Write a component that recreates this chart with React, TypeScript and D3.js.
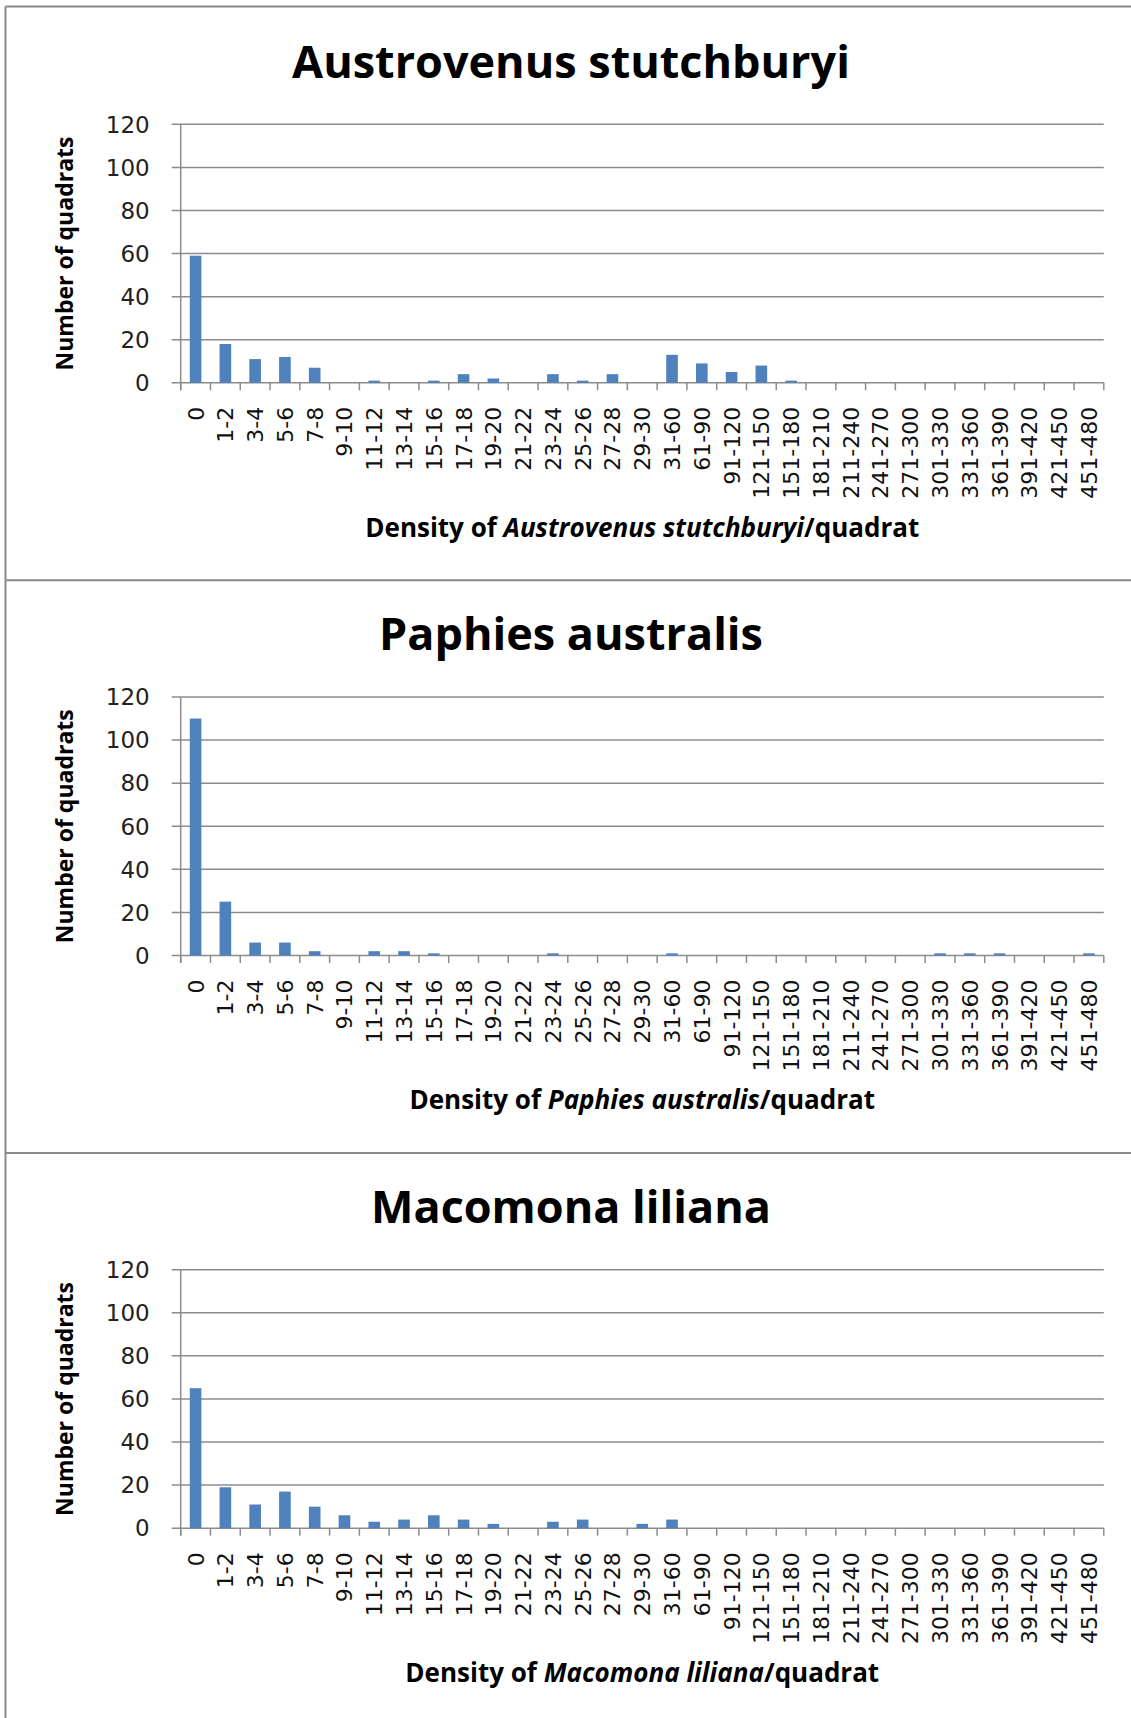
import React from "react";
import * as d3 from "d3";

const categories = [
  "0", "1-2", "3-4", "5-6", "7-8", "9-10", "11-12", "13-14", "15-16", "17-18",
  "19-20", "21-22", "23-24", "25-26", "27-28", "29-30", "31-60", "61-90", "91-120",
  "121-150", "151-180", "181-210", "211-240", "241-270", "271-300", "301-330",
  "331-360", "361-390", "391-420", "421-450", "451-480",
];

const austrovenusValues = [59, 18, 11, 12, 7, 0, 1, 0, 1, 4, 2, 0, 4, 1, 4, 0, 13, 9, 5, 8, 1, 0, 0, 0, 0, 0, 0, 0, 0, 0, 0];
const paphiesValues = [110, 25, 6, 6, 2, 0, 2, 2, 1, 0, 0, 0, 1, 0, 0, 0, 1, 0, 0, 0, 0, 0, 0, 0, 0, 1, 1, 1, 0, 0, 1];
const macomonaValues = [65, 19, 11, 17, 10, 6, 3, 4, 6, 4, 2, 0, 3, 4, 0, 2, 4, 0, 0, 0, 0, 0, 0, 0, 0, 0, 0, 0, 0, 0, 0];

const species = ["Austrovenus stutchburyi", "Paphies australis", "Macomona liliana"];
const seriesList = [austrovenusValues, paphiesValues, macomonaValues];

const yTicks = [0, 20, 40, 60, 80, 100, 120];
const yLabel = "Number of quadrats";
const xLabelPrefix = "Density of ";
const xLabelSuffix = "/quadrat";

// layout
const W = 1131;
const H = 1718;
const panelTop0 = 7.5;
const panelStep = 572.7;
const plotLeft = 180.7;
const plotRight = 1103.8;
const plotTopOff = 116.8;
const plotBottomOff = 375.3;
const gridColor = "#8c8c8c";
const barColor = "#4F81BD";
const frameColor = "#8a8a8a";

function Panel({ title, values, top }: { title: string; values: number[]; top: number }) {
  const x = d3.scaleBand<string>().domain(categories).range([plotLeft, plotRight]).paddingInner(0).paddingOuter(0);
  const y = d3.scaleLinear().domain([0, 120]).range([plotBottomOff, plotTopOff]);
  const bw = x.bandwidth();
  const barW = bw * 0.39;
  const y0 = y(0);
  const boundaries = d3.range(categories.length + 1).map((i) => plotLeft + i * bw);

  return (
    <g transform={`translate(0,${top})`}>
      <text
        x={571}
        y={70}
        textAnchor="middle"
        fontFamily="'Open Sans', sans-serif"
        fontWeight="bold"
        fontSize={45}
        fill="#000"
      >
        {title}
      </text>

      {yTicks.map((t) => (
        <line key={"g" + t} x1={plotLeft - 9} x2={plotRight} y1={y(t)} y2={y(t)} stroke={gridColor} strokeWidth={1.5} />
      ))}
      <line x1={plotLeft} x2={plotLeft} y1={y(120)} y2={y0 + 7.5} stroke={gridColor} strokeWidth={1.5} />
      {boundaries.map((bx, i) => (
        <line key={"t" + i} x1={bx} x2={bx} y1={y0} y2={y0 + 7.5} stroke={gridColor} strokeWidth={1.5} />
      ))}

      {values.map((v, i) =>
        v > 0 ? (
          <rect
            key={"b" + i}
            x={(x(categories[i]) as number) + (bw - barW) / 2}
            y={y(v)}
            width={barW}
            height={y0 - y(v)}
            fill={barColor}
          />
        ) : null
      )}

      {yTicks.map((t) => (
        <text
          key={"yl" + t}
          x={plotLeft - 31}
          y={y(t)}
          dy="0.36em"
          textAnchor="end"
          fontFamily="'DejaVu Sans', sans-serif"
          fontSize={23}
          fill="#222"
        >
          {t}
        </text>
      ))}

      {categories.map((c) => (
        <text
          key={"xl" + c}
          transform={`translate(${(x(c) as number) + bw / 2},${y0 + 24}) rotate(-90)`}
          dy="0.36em"
          textAnchor="end"
          fontFamily="'DejaVu Sans', sans-serif"
          fontSize={22}
          fill="#111"
        >
          {c}
        </text>
      ))}

      <text
        transform={`translate(72.5,${(plotTopOff + plotBottomOff) / 2}) rotate(-90)`}
        textAnchor="middle"
        fontFamily="'Open Sans', sans-serif"
        fontWeight="bold"
        fontSize={23}
        fill="#000"
      >
        {yLabel}
      </text>

      <text
        x={(plotLeft + plotRight) / 2}
        y={529}
        textAnchor="middle"
        fontFamily="'Open Sans', sans-serif"
        fontWeight="bold"
        fontSize={26}
        fill="#000"
      >
        <tspan>{xLabelPrefix}</tspan>
        <tspan fontStyle="italic">{title}</tspan>
        <tspan>{xLabelSuffix}</tspan>
      </text>
    </g>
  );
}

export default function App() {
  const tops = species.map((_, k) => panelTop0 + k * panelStep);
  return (
    <svg
      width={W}
      height={H}
      viewBox={`0 0 ${W} ${H}`}
      style={{ position: "absolute", left: 0, top: 0, background: "#fff" }}
    >
      <rect x={0} y={0} width={W} height={H} fill="#fff" />
      {species.map((s, k) => (
        <Panel key={s} title={s} values={seriesList[k]} top={tops[k]} />
      ))}
      <line x1={5.5} x2={W} y1={tops[0] - 1} y2={tops[0] - 1} stroke={frameColor} strokeWidth={2} />
      <line x1={5.5} x2={5.5} y1={tops[0] - 1} y2={H} stroke={frameColor} strokeWidth={2} />
      {tops.slice(1).map((t, i) => (
        <line key={"sep" + i} x1={5.5} x2={W} y1={t} y2={t} stroke={frameColor} strokeWidth={2} />
      ))}
    </svg>
  );
}
